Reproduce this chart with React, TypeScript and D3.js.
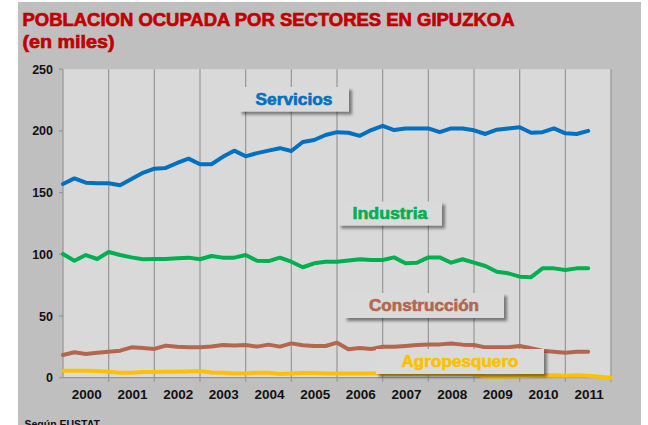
import { scaleLinear, line } from "d3";

// quarterly values, 2000 Q1 onwards (thousands)
const years = ["2000", "2001", "2002", "2003", "2004", "2005", "2006", "2007", "2008", "2009", "2010", "2011"];
const yTicks = [0, 50, 100, 150, 200, 250];

const servicios = [157, 161.5, 158, 157.5, 157.5, 156, 161, 166, 169.4, 170, 174, 177.5, 173, 173, 179, 184, 179.4, 182, 184, 186, 183.7, 191, 192.6, 196.7, 199, 198.5, 196, 200.7, 204, 200.7, 202, 202, 202, 199, 202, 202, 200.5, 197.5, 201, 202, 203, 198.5, 199, 202, 198, 197.5, 200];
const industria = [100.2, 94.8, 99.4, 96.2, 101.9, 99.4, 97.5, 96, 96.2, 96.2, 96.8, 97.3, 96, 98.6, 97.3, 97.3, 99.4, 94.8, 94.5, 97.3, 94, 89.5, 92.7, 94, 94, 95, 96, 95.4, 95.4, 97.5, 92.7, 93.2, 97.5, 97.5, 93.2, 96, 93.2, 90.5, 85.9, 84.6, 81.9, 81.5, 88.6, 88.6, 87.3, 88.6, 88.6];
const construccion = [18.4, 20.6, 19.2, 20.3, 21, 21.9, 24.6, 24, 23.3, 26, 25, 24.6, 24.6, 25.2, 26.5, 26, 26.5, 25.2, 26.8, 25.2, 27.8, 26.3, 25.7, 25.7, 28.4, 23, 24, 23.3, 25.1, 25.1, 25.7, 26.5, 27, 27, 27.8, 26.8, 26.5, 24.6, 24.6, 24.6, 25.7, 23.8, 21.9, 21, 20.3, 21, 21];
const agropesquero = [5.7, 5.7, 5.7, 5.4, 4.9, 4.1, 4.1, 4.6, 4.6, 4.9, 4.9, 5.1, 5.4, 4.3, 4.1, 3.5, 3.5, 4.1, 4.1, 3.0, 3.5, 3.8, 3.8, 3.5, 3.5, 3.5, 3.5, 3.5, 3.6, 3.4, 3.3, 3.5, 3.6, 3.4, 3.2, 3.3, 3.0, 1.0, 0.8, 1.0, 1.2, 1.6, 1.8, 2.0, 1.6, 2.0, 1.6, 0.8, 0];

const W = 648;
const H = 425;
const plot = { left: 63, right: 611, top: 69.2, bottom: 377.7 };
const font = "'Liberation Sans', Arial, sans-serif";

const series = [
  { name: "Servicios", values: servicios, color: "#0070c0", box: { x: 239, y: 87, w: 110, h: 24.5 }, textW: 77 },
  { name: "Industria", values: industria, color: "#00b050", box: { x: 338, y: 201.5, w: 104, h: 24 }, textW: 75 },
  { name: "Construcción", values: construccion, color: "#b5664f", box: { x: 344, y: 293, w: 160, h: 25 }, textW: 110 },
  { name: "Agropesquero", values: agropesquero, color: "#ffc000", box: { x: 376, y: 349, w: 168, h: 25 }, textW: 117 },
];

export default function App() {
  const x = scaleLinear().domain([0, years.length * 4]).range([plot.left, plot.right]);
  const y = scaleLinear().domain([0, 250]).range([plot.bottom, plot.top]);

  const path = line<number>()
    .x((_, i) => x(i))
    .y((d) => y(d));

  const grid = years.map((_, i) => x((i + 1) * 4));

  return (
    <svg width={W} height={H} style={{ position: "absolute", left: 0, top: 0 }} fontFamily={font}>
      <defs>
        <filter id="shadow" x="-10%" y="-20%" width="130%" height="160%">
          <feDropShadow dx="3" dy="3" stdDeviation="1.6" floodColor="#000" floodOpacity="0.45" />
        </filter>
      </defs>
      <rect x={0} y={0} width={W} height={H} fill="#fff" />
      <rect x={18} y={2} width={623} height={H} fill="#bfbfbf" />

      <text x={22.5} y={26} fontSize={19} fontWeight="bold" fill="#c00000" stroke="#c00000" strokeWidth={0.7} textLength={492} lengthAdjust="spacingAndGlyphs">
        POBLACION OCUPADA POR SECTORES EN GIPUZKOA
      </text>
      <text x={22.5} y={48} fontSize={19} fontWeight="bold" fill="#c00000" stroke="#c00000" strokeWidth={0.7} textLength={92} lengthAdjust="spacingAndGlyphs">
        (en miles)
      </text>

      <rect x={plot.left} y={plot.top} width={plot.right - plot.left} height={plot.bottom - plot.top} fill="#d9d9d9" />

      {/* vertical gridlines, one per year */}
      {grid.map((gx, i) => (
        <line key={i} x1={gx} x2={gx} y1={plot.top} y2={plot.bottom + 4} stroke="#969696" strokeWidth={1.2} />
      ))}

      {/* axes */}
      <line x1={plot.left} x2={plot.left} y1={plot.top} y2={plot.bottom} stroke="#969696" strokeWidth={1.2} />
      <line x1={plot.left} x2={plot.right} y1={plot.bottom} y2={plot.bottom} stroke="#969696" strokeWidth={1.2} />
      {yTicks.map((t) => (
        <g key={t}>
          <line x1={plot.left - 4} x2={plot.left} y1={y(t)} y2={y(t)} stroke="#969696" strokeWidth={1.2} />
          <text x={53} y={y(t) + 4.5} fontSize={12.5} fontWeight="bold" textAnchor="end" fill="#111">
            {t}
          </text>
        </g>
      ))}
      {years.map((yr, i) => (
        <text key={yr} x={x(i * 4 + 2) + 1} y={399} fontSize={13.5} fontWeight="bold" textAnchor="middle" fill="#111">
          {yr}
        </text>
      ))}

      {series.map((s) => (
        <path key={s.name} d={path(s.values) || ""} fill="none" stroke={s.color} strokeWidth={4} strokeLinejoin="round" strokeLinecap="round" />
      ))}

      {series.map((s) => (
        <g key={s.name + "-label"}>
          <rect x={s.box.x} y={s.box.y} width={s.box.w} height={s.box.h} fill="#dadada" filter="url(#shadow)" />
          <text
            x={s.box.x + s.box.w / 2}
            y={s.box.y + s.box.h / 2 + 5.5}
            fontSize={16}
            fontWeight="bold"
            textAnchor="middle"
            fill={s.color}
            stroke={s.color}
            strokeWidth={0.6}
            textLength={s.textW}
            lengthAdjust="spacingAndGlyphs"
          >
            {s.name}
          </text>
        </g>
      ))}

      <text x={24.5} y={427.5} fontSize={10.5} fontWeight="bold" fill="#111">
        Según EUSTAT
      </text>
    </svg>
  );
}
